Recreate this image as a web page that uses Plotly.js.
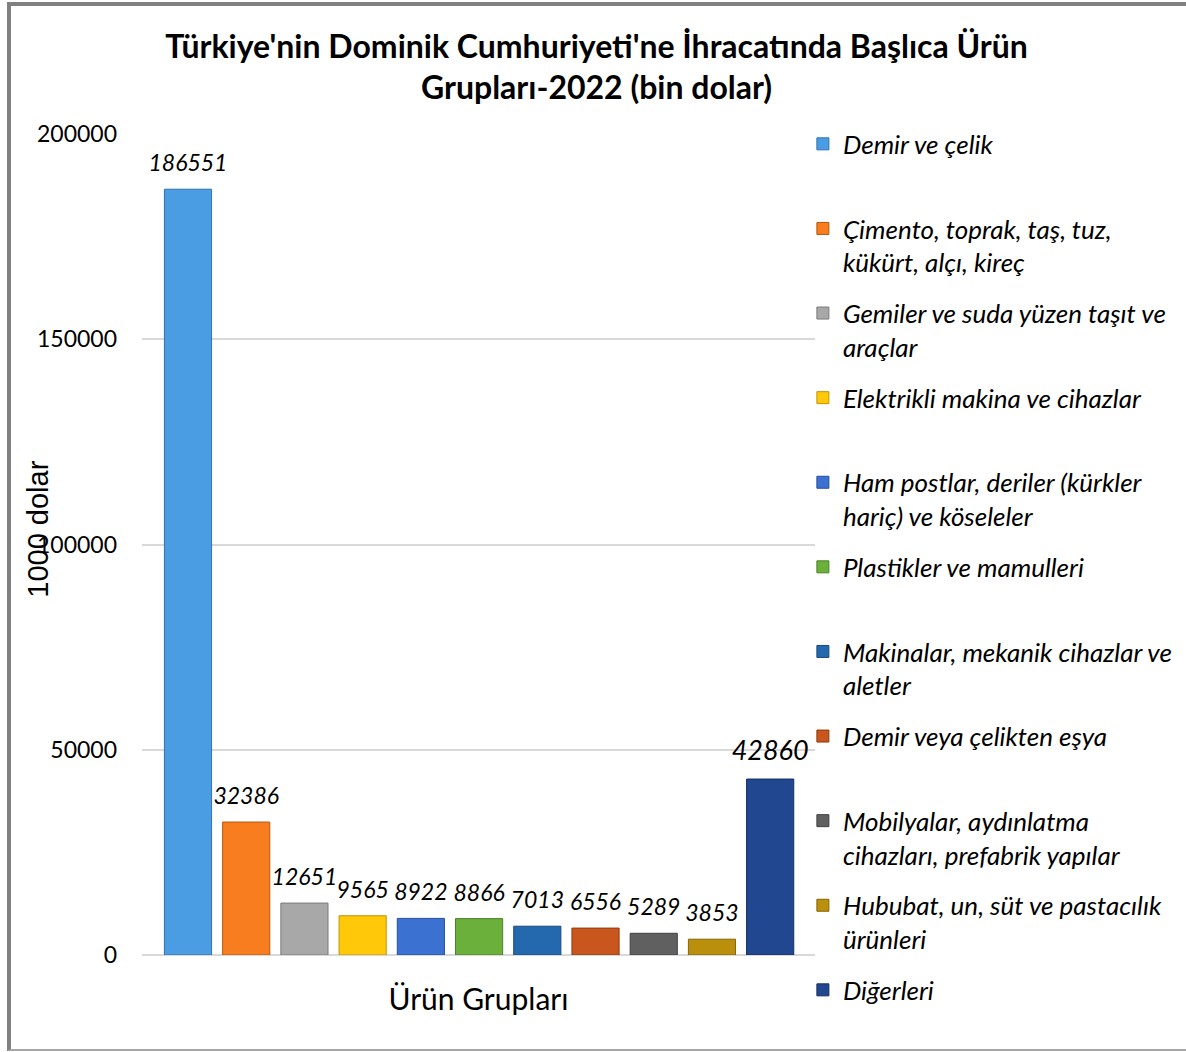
<!DOCTYPE html>
<html>
<head>
<meta charset="utf-8">
<script src="https://cdn.plot.ly/plotly-3.0.1.min.js"></script>
<style>
  body { margin: 0; background: #ffffff; }
  #chart { width: 1186px; height: 1052px; }
  #frame { position: absolute; left: 7px; top: 2px; width: 1200px; height: 1049px;
           border-left: 4px solid #808080; border-top: 4px solid #808080; border-bottom: 2px solid #a6a6a6;
           box-sizing: border-box; pointer-events: none; }
</style>
</head>
<body>
<div id="chart"></div>
<div id="frame"></div>
<script>
const categories = [
  'Demir ve çelik',
  'Çimento, toprak, taş, tuz, kükürt, alçı, kireç',
  'Gemiler ve suda yüzen taşıt ve araçlar',
  'Elektrikli makina ve cihazlar',
  'Ham postlar, deriler (kürkler hariç) ve köseleler',
  'Plastikler ve mamulleri',
  'Makinalar, mekanik cihazlar ve aletler',
  'Demir veya çelikten eşya',
  'Mobilyalar, aydınlatma cihazları, prefabrik yapılar',
  'Hububat, un, süt ve pastacılık ürünleri',
  'Diğerleri'
];
const legendNames = [
  'Demir ve çelik<br>\u00a0',
  'Çimento, toprak, taş, tuz,<br>kükürt, alçı, kireç',
  'Gemiler ve suda yüzen taşıt ve<br>araçlar',
  'Elektrikli makina ve cihazlar<br>\u00a0',
  'Ham postlar, deriler (kürkler<br>hariç) ve köseleler',
  'Plastikler ve mamulleri<br>\u00a0',
  'Makinalar, mekanik cihazlar ve<br>aletler',
  'Demir veya çelikten eşya<br>\u00a0',
  'Mobilyalar, aydınlatma<br>cihazları, prefabrik yapılar',
  'Hububat, un, süt ve pastacılık<br>ürünleri',
  'Diğerleri<br>\u00a0'
];
const values = [186551, 32386, 12651, 9565, 8922, 8866, 7013, 6556, 5289, 3853, 42860];
const valueLabels = ['186551', '32386', '12651', '9565', '8922', '8866', '7013', '6556', '5289', '3853', '42860'];
const colors = ['#4a9de2', '#f77d1e', '#a8a8a8', '#ffc90a', '#3b72d2', '#6cb03c', '#2468ad', '#c9561c', '#606060', '#b98f0c', '#20478f'];
const edgeColors = ['#2f72b0', '#b9570f', '#7a7a7a', '#c29400', '#254f9c', '#4a8226', '#164a80', '#8f3a10', '#404040', '#85660a', '#132e63'];
const labelSizes = [23, 23, 23, 23, 23, 23, 23, 23, 23, 23, 27];
const yTickVals = [0, 50000, 100000, 150000, 200000];

const barTraces = categories.map((cat, i) => ({
  type: 'bar',
  x: [cat],
  y: [values[i]],
  name: legendNames[i],
  legendgroup: 'g' + i,
  marker: { color: colors[i], line: { color: edgeColors[i], width: 1 } },
  hovertemplate: cat + ': %{y}<extra></extra>'
}));

const labelTrace = {
  type: 'scatter',
  mode: 'markers+text',
  x: categories,
  y: values,
  text: valueLabels,
  textposition: 'top center',
  textfont: { family: 'Lato, sans-serif', size: labelSizes, style: 'italic', color: '#000000' },
  marker: { size: 18, opacity: 0, color: '#ffffff' },
  cliponaxis: false,
  showlegend: false,
  hoverinfo: 'skip'
};

const layout = {
  width: 1186,
  height: 1052,
  paper_bgcolor: '#ffffff',
  plot_bgcolor: '#ffffff',
  margin: { l: 142, r: 371, t: 134, b: 97, autoexpand: false },
  title: {
    text: "Türkiye'nin Dominik Cumhuriyeti'ne İhracatında Başlıca Ürün<br>Grupları-2022 (bin dolar)",
    font: { family: 'Lato, sans-serif', size: 32, weight: 700, color: '#000000' },
    xref: 'container', x: 0.503,
    yref: 'container', y: 0.945, yanchor: 'middle'
  },
  barmode: 'overlay',
  bargap: 0.19,
  showlegend: true,
  legend: {
    x: 0.982, xanchor: 'left',
    y: 1.0165, yanchor: 'top',
    valign: 'top',
    tracegroupgap: 14,
    maxheight: 1000,
    font: { family: 'Lato, sans-serif', size: 26, style: 'italic', color: '#000000' },
    bgcolor: 'rgba(0,0,0,0)'
  },
  xaxis: {
    type: 'category',
    categoryorder: 'array',
    categoryarray: categories,
    range: [-0.79, 10.77],
    showticklabels: false,
    ticks: '',
    showgrid: false,
    showline: false,
    zeroline: false,
    automargin: false,
    fixedrange: true,
    title: { text: 'Ürün Grupları', font: { family: 'Lato, sans-serif', size: 30, color: '#000000' }, standoff: 33 }
  },
  yaxis: {
    range: [0, 200000],
    tickvals: yTickVals,
    tickformat: 'd',
    ticks: '',
    ticklabelstandoff: 24,
    showgrid: true,
    gridcolor: '#d9d9d9',
    gridwidth: 1.5,
    zeroline: true,
    zerolinecolor: '#d9d9d9',
    zerolinewidth: 1.5,
    showline: false,
    automargin: false,
    fixedrange: true,
    tickfont: { family: 'Lato, sans-serif', size: 23, color: '#000000' }
  },
  annotations: [{
    text: '1000 dolar',
    textangle: -90,
    xref: 'paper', x: -0.1545, xanchor: 'center',
    yref: 'paper', y: 0.518, yanchor: 'middle',
    showarrow: false,
    font: { family: 'Liberation Sans, Arial, sans-serif', size: 29, color: '#000000' }
  }]
};

Plotly.newPlot('chart', barTraces.concat([labelTrace]), layout, { displayModeBar: false, responsive: false });
</script>
</body>
</html>
